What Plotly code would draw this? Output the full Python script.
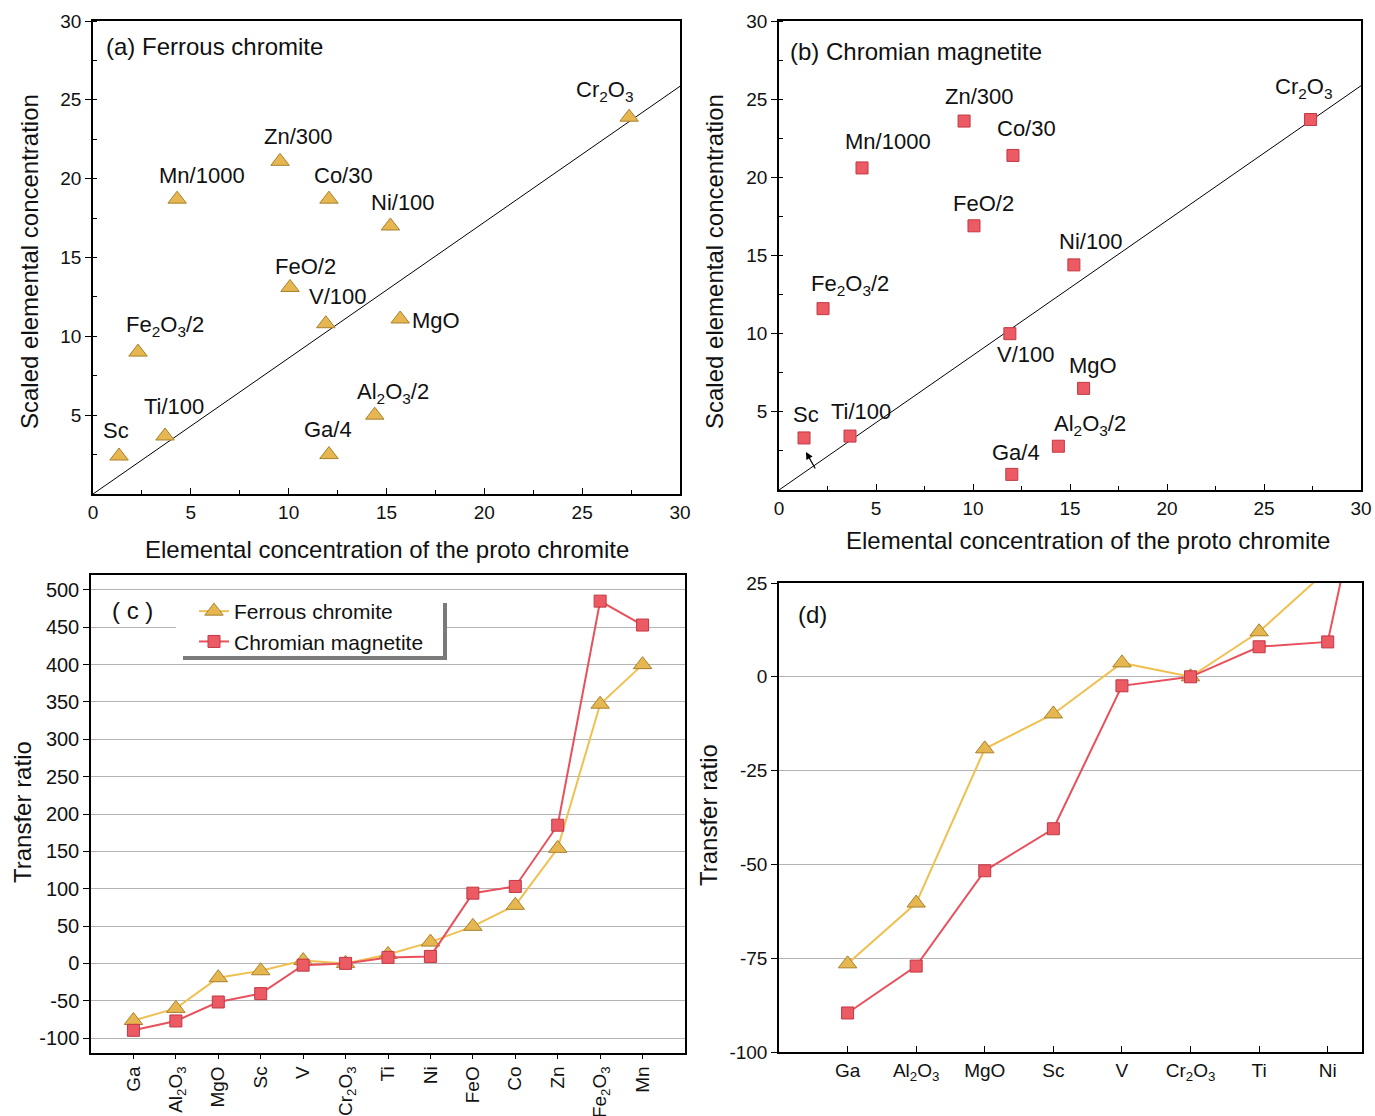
import plotly.graph_objects as go

# ---------------- data ----------------
scatter_labels = ["Sc", "Ti/100", "Fe<sub>2</sub>O<sub>3</sub>/2", "Mn/1000", "Zn/300", "Co/30",
                  "Ni/100", "FeO/2", "V/100", "MgO", "Al<sub>2</sub>O<sub>3</sub>/2", "Ga/4",
                  "Cr<sub>2</sub>O<sub>3</sub>"]
proto_a = [1.33, 3.68, 2.30, 4.30, 9.56, 12.06, 15.20, 10.07, 11.90, 15.70, 14.40, 12.06, 27.40]
ferrous_scaled = [2.41, 3.68, 9.00, 18.70, 21.10, 18.70, 17.00, 13.10, 10.80, 11.10, 5.00, 2.50, 23.90]
proto_b = [1.29, 3.66, 2.27, 4.28, 9.54, 12.06, 15.20, 10.05, 11.90, 15.70, 14.40, 12.00, 27.40]
chromian_scaled = [3.33, 3.45, 11.60, 20.60, 23.60, 21.40, 14.40, 16.90, 10.00, 6.50, 2.80, 1.00, 23.70]
ref_line_x = [0, 30]
ref_line_y = [0, 25.86]

transfer_cats = ["Ga", "Al<sub>2</sub>O<sub>3</sub>", "MgO", "Sc", "V", "Cr<sub>2</sub>O<sub>3</sub>",
                 "Ti", "Ni", "FeO", "Co", "Zn", "Fe<sub>2</sub>O<sub>3</sub>", "Mn"]
ferrous_transfer = [-76.5, -60.3, -19.2, -9.9, 3.7, 0.0, 12.0, 28.5, 49.6, 77.7, 154.0, 347.0, 400.0]
chromian_transfer = [-89.6, -77.1, -51.7, -40.5, -2.4, 0.0, 8.0, 9.3, 94.0, 103.0, 185.0, 485.0, 453.0]

yticks_c = [-100, -50, 0, 50, 100, 150, 200, 250, 300, 350, 400, 450, 500]
yticks_d = [-100, -75, -50, -25, 0, 25]

# label offsets (pixels) for scatter annotations
shift_a = [(-3, 26), (9, 29), (27, 26), (25, 24), (18, 25), (15, 24), (13, 23), (15, 21),
           (12, 27), (36, -2), (18, 22), (-1, 25), (-25, 26)]
shift_b = [(2, 23), (11, 25), (27, 24), (26, 26), (15, 25), (14, 27), (17, 23), (10, 22),
           (16, -21), (9, 23), (32, 21), (4, 22), (-7, 31)]

W, H = 1375, 1116
FONT = "Liberation Sans, Arial, sans-serif"

FER_LINE = "#F0C050"
FER_FILL = "#E6B650"
FER_EDGE = "#A7812C"
CHR_LINE = "#E8505C"
CHR_FILL = "#EC5A64"
CHR_EDGE = "#C23844"


def px(x0, x1, y0, y1):
    return [x0 / W, x1 / W], [1 - y1 / H, 1 - y0 / H]


fig = go.Figure()

dxa, dya = px(93, 680, 21, 494)
dxb, dyb = px(779, 1361, 21, 490)
dxc, dyc = px(91, 685, 575, 1053)
dxd, dyd = px(779, 1362, 583, 1052)

idx = list(range(len(transfer_cats)))

tri = dict(symbol="triangle-up", size=16, color=FER_FILL, line=dict(color=FER_EDGE, width=1))
sq = dict(symbol="square", size=12, color=CHR_FILL, line=dict(color=CHR_EDGE, width=1))

# (a)
fig.add_trace(go.Scatter(x=ref_line_x, y=ref_line_y, mode="lines", line=dict(color="black", width=1),
                         xaxis="x", yaxis="y", showlegend=False, hoverinfo="skip"))
fig.add_trace(go.Scatter(x=proto_a, y=ferrous_scaled, mode="markers", xaxis="x", yaxis="y",
                         marker=tri, showlegend=False))
# (b)
fig.add_trace(go.Scatter(x=ref_line_x, y=ref_line_y, mode="lines", line=dict(color="black", width=1),
                         xaxis="x2", yaxis="y2", showlegend=False, hoverinfo="skip"))
fig.add_trace(go.Scatter(x=proto_b, y=chromian_scaled, mode="markers", xaxis="x2", yaxis="y2",
                         marker=sq, showlegend=False))
# (c)
fig.add_trace(go.Scatter(x=idx, y=ferrous_transfer, mode="lines+markers", name="Ferrous chromite",
                         xaxis="x3", yaxis="y3", line=dict(color=FER_LINE, width=2), marker=tri))
fig.add_trace(go.Scatter(x=idx, y=chromian_transfer, mode="lines+markers", name="Chromian magnetite",
                         xaxis="x3", yaxis="y3", line=dict(color=CHR_LINE, width=2), marker=sq))
# (d)
fig.add_trace(go.Scatter(x=idx, y=ferrous_transfer, mode="lines+markers", showlegend=False,
                         xaxis="x4", yaxis="y4", line=dict(color=FER_LINE, width=2), marker=tri))
fig.add_trace(go.Scatter(x=idx, y=chromian_transfer, mode="lines+markers", showlegend=False,
                         xaxis="x4", yaxis="y4", line=dict(color=CHR_LINE, width=2), marker=sq))

axis_common = dict(showline=True, mirror=True, linecolor="black", linewidth=1.5, automargin=False,
                   zeroline=False, tickcolor="black")


def tf(s):
    return dict(family=FONT, size=s, color="#111")


annotations = []

# scatter labels
for i, lab in enumerate(scatter_labels):
    annotations.append(dict(x=proto_a[i], y=ferrous_scaled[i], xref="x", yref="y", text=lab,
                            showarrow=False, xshift=shift_a[i][0], yshift=shift_a[i][1],
                            xanchor="center", yanchor="middle", font=tf(22)))
    annotations.append(dict(x=proto_b[i], y=chromian_scaled[i], xref="x2", yref="y2", text=lab,
                            showarrow=False, xshift=shift_b[i][0], yshift=shift_b[i][1],
                            xanchor="center", yanchor="middle", font=tf(22)))

# arrow in (b)
annotations.append(dict(x=1.39, y=2.43, ax=1.91, ay=1.28, xref="x2", yref="y2", axref="x2", ayref="y2",
                        text="", showarrow=True, arrowhead=2, arrowsize=1.2, arrowwidth=1.2,
                        arrowcolor="black"))

# panel titles
annotations += [
    dict(x=104 / W, y=1 - 46 / H, xref="paper", yref="paper", xanchor="left", yanchor="middle",
         text="(a) Ferrous chromite", showarrow=False, font=tf(24)),
    dict(x=788 / W, y=1 - 52 / H, xref="paper", yref="paper", xanchor="left", yanchor="middle",
         text="(b) Chromian magnetite", showarrow=False, font=tf(24)),
    dict(x=132 / W, y=1 - 610 / H, xref="paper", yref="paper", xanchor="center", yanchor="middle",
         text="( c )", showarrow=False, font=tf(24)),
    dict(x=812 / W, y=1 - 614 / H, xref="paper", yref="paper", xanchor="center", yanchor="middle",
         text="(d)", showarrow=False, font=tf(24)),
]

# axis titles
for (tx, ty, txt, ang) in [
    (387, 550, "Elemental concentration of the proto chromite", 0),
    (1088, 541, "Elemental concentration of the proto chromite", 0),
    (30, 262, "Scaled elemental concentration", -90),
    (715, 262, "Scaled elemental concentration", -90),
    (22, 812, "Transfer ratio", -90),
    (708, 815, "Transfer ratio", -90),
]:
    annotations.append(dict(x=tx / W, y=1 - ty / H, xref="paper", yref="paper", text=txt,
                            xanchor="center", yanchor="middle", showarrow=False,
                            textangle=ang, font=tf(24)))

shapes = [
    # legend shadow and background
    dict(type="rect", xref="paper", yref="paper", x0=183 / W, x1=447 / W, y0=1 - 660 / H, y1=1 - 603 / H,
         fillcolor="#7a7a7a", line=dict(width=0), layer="above"),
    dict(type="rect", xref="paper", yref="paper", x0=176 / W, x1=443 / W, y0=1 - 656 / H, y1=1 - 596 / H,
         fillcolor="white", line=dict(width=0), layer="above"),
]

minor_in = dict(ticks="inside", ticklen=4, dtick=2.5, tickcolor="black")

fig.update_layout(
    template="none",
    width=W, height=H, margin=dict(l=0, r=0, t=0, b=0, autoexpand=False),
    paper_bgcolor="white", plot_bgcolor="white",
    font=dict(family=FONT, color="#111"),
    xaxis=dict(domain=dxa, anchor="y", range=[0, 30], tickvals=[0, 5, 10, 15, 20, 25, 30],
               ticks="inside", ticklen=6, showgrid=False, minor=minor_in, tickfont=tf(19), **axis_common),
    yaxis=dict(domain=dya, anchor="x", range=[0, 30], tickvals=[5, 10, 15, 20, 25, 30],
               ticks="outside", ticklen=6, showgrid=False, minor=minor_in, tickfont=tf(19), **axis_common),
    xaxis2=dict(domain=dxb, anchor="y2", range=[0, 30], tickvals=[0, 5, 10, 15, 20, 25, 30],
                ticks="inside", ticklen=6, showgrid=False, minor=minor_in, tickfont=tf(19), **axis_common),
    yaxis2=dict(domain=dyb, anchor="x2", range=[0, 30], tickvals=[5, 10, 15, 20, 25, 30],
                ticks="outside", ticklen=6, showgrid=False, minor=minor_in, tickfont=tf(19), **axis_common),
    xaxis3=dict(domain=dxc, anchor="y3", range=[-1, 13], tickvals=idx, ticktext=transfer_cats,
                tickangle=-90, ticks="outside", ticklen=4, showgrid=False, tickfont=tf(19), **axis_common),
    yaxis3=dict(domain=dyc, anchor="x3", range=[-120, 520], tickvals=yticks_c,
                ticktext=[str(v) for v in yticks_c], ticklen=6,
                ticks="outside", showgrid=True, gridcolor="#b4b4b4", gridwidth=1.3, tickfont=tf(20),
                **axis_common),
    xaxis4=dict(domain=dxd, anchor="y4", range=[-1, 7.5], tickvals=idx, ticktext=transfer_cats,
                ticks="inside", ticklen=6, showgrid=False, tickfont=tf(19), **axis_common),
    yaxis4=dict(domain=dyd, anchor="x4", range=[-100, 25], tickvals=yticks_d,
                ticktext=[str(v) for v in yticks_d], ticklen=6,
                ticks="outside", showgrid=True, gridcolor="#b4b4b4", gridwidth=1.3, tickfont=tf(19),
                **axis_common),
    legend=dict(x=194 / W, y=1 - 591 / H, xanchor="left", yanchor="top", bgcolor="rgba(0,0,0,0)",
                font=tf(21), tracegroupgap=0),
    annotations=annotations,
    shapes=shapes,
)

fig.write_html("out.html", config={"displayModeBar": False},
               post_script="document.body.style.margin='0';document.body.style.overflow='hidden';")
